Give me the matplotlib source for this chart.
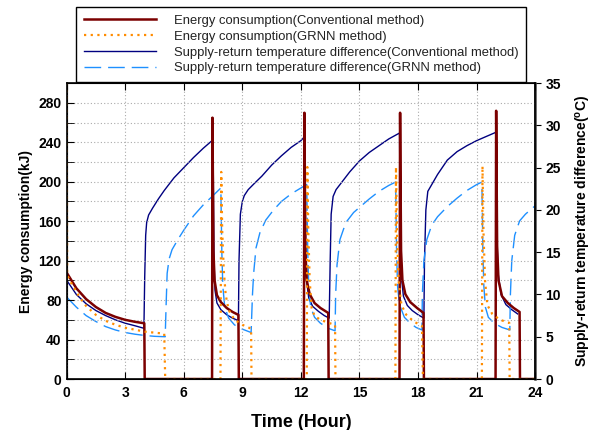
import numpy as np
import matplotlib.pyplot as plt

plt.rcParams['font.family'] = ['Liberation Sans', 'DejaVu Sans']

# energy consumption, conventional method (kJ)
t_ec = [0, 0.5, 1.0, 1.5, 2.0, 2.5, 3.0, 3.5, 3.98, 4.0,
        7.45, 7.47, 7.52, 7.58, 7.7, 7.9, 8.2, 8.5, 8.8, 8.82,
        12.15, 12.18, 12.23, 12.3, 12.45, 12.7, 13.0, 13.4, 13.42,
        17.05, 17.08, 17.13, 17.2, 17.35, 17.6, 17.95, 18.28, 18.3,
        21.97, 22.0, 22.05, 22.12, 22.3, 22.6, 22.9, 23.2, 23.22, 24]
e_conv = [108, 92, 81, 73, 67, 63, 60, 58, 56.5, 0,
          0, 265, 130, 100, 85, 78, 72, 68, 65, 0,
          0, 270, 130, 100, 86, 77, 72, 67, 0,
          0, 270, 130, 100, 86, 78, 72, 67, 0,
          0, 272, 135, 100, 84, 77, 72, 68, 0, 0]

# energy consumption, GRNN method (kJ)
t_eg = [0, 0.03, 0.3, 0.7, 1.0, 1.5, 2.0, 2.5, 3.0, 3.5, 4.0, 4.5, 5.0, 5.05,
        7.88, 7.92, 7.97, 8.05, 8.15, 8.3, 8.6, 9.0, 9.45, 9.47,
        12.3, 12.33, 12.38, 12.45, 12.55, 12.7, 13.0, 13.4, 13.75, 13.77,
        16.84, 16.87, 16.92, 17.0, 17.15, 17.4, 17.8, 18.2, 18.25,
        21.27, 21.3, 21.35, 21.43, 21.55, 21.8, 22.2, 22.67, 22.69, 24]
e_grnn = [300, 105, 95, 82, 74, 65, 59, 55, 52, 50, 48, 47, 46, 0,
          0, 210, 150, 110, 85, 70, 60, 55, 51, 0,
          0, 215, 150, 100, 72, 64, 60, 57, 55, 0,
          0, 215, 150, 100, 75, 65, 58, 54, 0,
          0, 216, 150, 100, 75, 66, 60, 57, 0, 0]

# supply-return temperature difference, conventional method (C)
t_tc = [0, 0.5, 1.0, 1.5, 2.0, 2.5, 3.0, 3.5, 3.96,
        4.0, 4.05, 4.1, 4.2, 4.4, 4.7, 5.0, 5.5, 6.0, 6.5, 7.0, 7.5,
        7.55, 7.6, 7.7, 7.9, 8.2, 8.5, 8.8,
        8.83, 8.9, 9.0, 9.1, 9.3, 9.6, 10.0, 10.5, 11.0, 11.5, 12.0, 12.2,
        12.25, 12.3, 12.4, 12.6, 12.9, 13.2, 13.45,
        13.5, 13.55, 13.65, 13.8, 14.0, 14.5, 15.0, 15.5, 16.0, 16.5, 17.05,
        17.1, 17.15, 17.25, 17.45, 17.7, 18.0, 18.3,
        18.33, 18.4, 18.5, 18.7, 19.0, 19.5, 20.0, 20.5, 21.0, 21.5, 22.0,
        22.05, 22.1, 22.25, 22.5, 22.8, 23.1]
d_conv = [11.7, 10.0, 8.9, 8.1, 7.5, 7.0, 6.6, 6.3, 6.0,
          12, 17.0, 18.5, 19.4, 20.2, 21.3, 22.3, 23.8, 25.0, 26.2, 27.3, 28.3,
          14, 10.5, 9.0, 8.2, 7.6, 7.2, 6.9,
          14, 19.5, 21.0, 21.7, 22.4, 23.1, 24.0, 25.3, 26.4, 27.4, 28.2, 28.7,
          15, 11.5, 9.6, 8.6, 8.0, 7.5, 7.2,
          14, 19.5, 21.6, 22.4, 23.0, 24.5, 25.8, 26.8, 27.6, 28.4, 29.1,
          16, 12, 9.8, 8.7, 8.1, 7.6, 7.2,
          14, 20, 22.2, 23.0, 24.2, 25.9, 26.9, 27.6, 28.2, 28.7, 29.2,
          16, 12.5, 10.0, 8.8, 8.2, 7.7]

# supply-return temperature difference, GRNN method (C)
t_tg = [0, 0.5, 1.0, 1.5, 2.0, 2.5, 3.0, 3.5, 4.0, 4.5, 5.05,
        5.1, 5.15, 5.25, 5.4, 5.7, 6.0, 6.5, 7.0, 7.5, 7.9,
        7.95, 8.0, 8.1, 8.3, 8.6, 9.0, 9.45,
        9.52, 9.58, 9.7, 9.9, 10.2, 10.6, 11.0, 11.5, 12.0, 12.3,
        12.35, 12.4, 12.5, 12.7, 13.0, 13.4, 13.75,
        13.78, 13.85, 14.0, 14.3, 14.7, 15.0, 15.5, 16.0, 16.5, 16.85,
        16.9, 16.95, 17.05, 17.3, 17.6, 17.9, 18.2,
        18.22, 18.3, 18.45, 18.7, 19.0, 19.5, 20.0, 20.5, 21.0, 21.27,
        21.32, 21.37, 21.45, 21.6, 21.9, 22.3, 22.7,
        22.73, 22.8, 22.95, 23.2, 23.5, 24.0]
d_grnn = [9.7, 8.5, 7.5, 6.8, 6.2, 5.8, 5.5, 5.3, 5.15, 5.05, 5.0,
          9, 12.5, 14.2, 15.3, 16.5, 17.6, 19.3, 20.6, 21.7, 22.6,
          15, 11, 8.5, 7.2, 6.4, 5.9, 5.5,
          10, 12.5, 15.5, 17.3, 18.8, 20.0, 21.0, 21.9, 22.6, 23.0,
          15, 11, 8.5, 7.3, 6.6, 6.0, 5.7,
          10, 13.5, 16.5, 18.5, 19.7, 20.3, 21.3, 22.2, 22.9, 23.3,
          15, 11, 8.8, 7.3, 6.6, 6.1, 5.8,
          10, 14, 16.5, 18.2, 19.2, 20.4, 21.4, 22.3, 23.0, 23.3,
          15, 11, 8.5, 7.3, 6.6, 6.1, 5.8,
          10, 14, 17.0, 18.7, 19.5, 20.5]

fig = plt.figure(figsize=(6, 4.3), dpi=100)
ax = fig.add_axes([0.111, 0.1186, 0.781, 0.688])
ax2 = ax.twinx()
ax.set_zorder(ax2.get_zorder() + 1)
ax.patch.set_visible(False)

# temperature lines on the right axis
l3, = ax2.plot(t_tc, d_conv, color='#000080', lw=1.0,
               label='Supply-return temperature difference(Conventional method)')
l4, = ax2.plot(t_tg, d_grnn, color='#1E90FF', lw=1.0, dashes=(12, 5),
               label='Supply-return temperature difference(GRNN method)')

# energy lines on the left axis
l1, = ax.plot(t_ec, e_conv, color='#7B0000', lw=1.8,
              label='Energy consumption(Conventional method)')
l2, = ax.plot(t_eg, e_grnn, color='#FF8C00', lw=1.6, linestyle=(0, (1, 2)),
              label='Energy consumption(GRNN method)')

ax.set_xlim(0, 24)
ax.set_ylim(0, 300)
ax2.set_ylim(0, 35)
ax.set_xticks(np.arange(0, 25, 3))
ax.set_yticks(np.arange(0, 281, 40))
ax.set_yticks(np.arange(20, 300, 40), minor=True)
ax2.set_yticks(np.arange(0, 36, 5))

ax.grid(True, which='both', axis='y', color='#aaaaaa', lw=0.8, linestyle=(0, (1, 2)))
ax.grid(True, which='major', axis='x', color='#aaaaaa', lw=0.8, linestyle=(0, (1, 2)))

ax.tick_params(axis='x', direction='in', top=True, length=5, labelsize=10, pad=5)
ax.tick_params(axis='y', which='both', direction='in', length=5, labelsize=10)
ax2.tick_params(axis='y', direction='out', length=4, labelsize=10)
for lab in ax.get_xticklabels() + ax.get_yticklabels() + ax2.get_yticklabels():
    lab.set_fontweight('bold')

for sp in ax.spines.values():
    sp.set_linewidth(1.2)
ax2.spines['right'].set_color('#444444')
ax2.spines['right'].set_linewidth(1.8)

ax.set_xlabel('Time (Hour)', fontsize=13, fontweight='bold', labelpad=10)
ax.set_ylabel('Energy consumption(kJ)', fontsize=10, fontweight='bold', labelpad=4)
ax2.set_ylabel('Supply-return temperature difference($\\mathregular{^o}$C)',
               fontsize=10, fontweight='bold', labelpad=9)

leg = fig.legend(handles=[l1, l2, l3, l4], loc='upper left',
                 bbox_to_anchor=(76 / 600, 1 - 7 / 430), borderaxespad=0,
                 fontsize=9.4, handlelength=5.5, handletextpad=1.4,
                 labelspacing=0.28, borderpad=0.6, fancybox=False,
                 edgecolor='black', framealpha=1, shadow=False)
leg.get_frame().set_linewidth(1.0)
for txt in leg.get_texts():
    txt.set_color('#222222')

fig.savefig('out.png', dpi=100)
